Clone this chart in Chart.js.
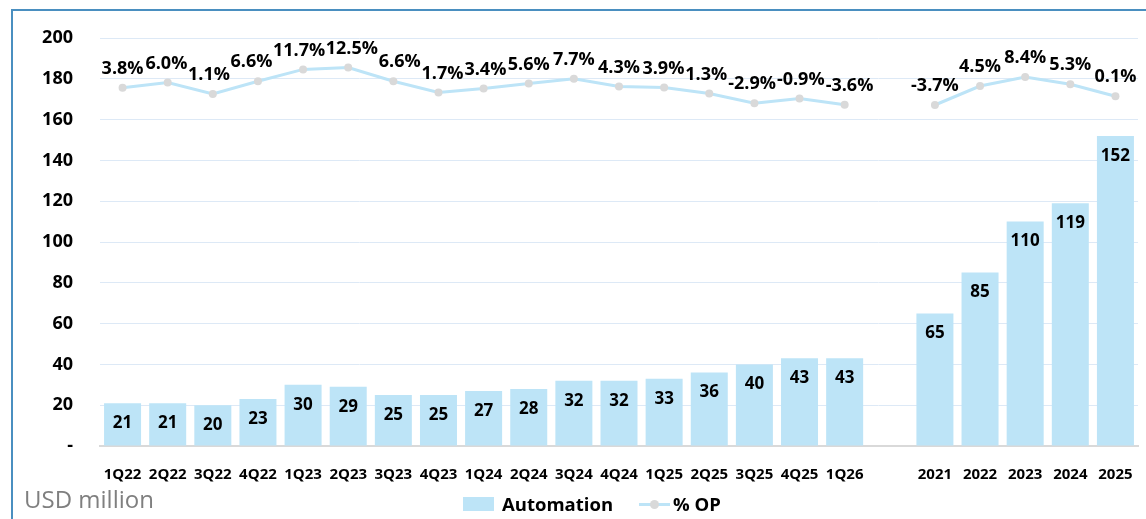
<!DOCTYPE html>
<html>
<head>
<meta charset="utf-8">
<script src="https://cdn.jsdelivr.net/npm/chart.js@4.4.0/dist/chart.umd.min.js"></script>
<style>
html, body { margin: 0; padding: 0; background: #fff; }
#wrap { position: relative; width: 1146px; height: 519px; overflow: hidden; font-family: "Open Sans", sans-serif; }
#frame { position: absolute; left: 11px; top: 9px; width: 1300px; height: 700px; border-left: 2px solid #4a8fc0; border-top: 2px solid #4a8fc0; }
canvas { position: absolute; left: 0; top: 0; }
#unit { position: absolute; left: 24px; top: 482px; font-size: 24px; color: #7f7f7f; }
#legend { position: absolute; left: 463px; top: 491px; display: flex; align-items: center; font-size: 18.5px; font-weight: bold; color: #000; }
#legend .box { width: 31px; height: 14px; background: #bde4f7; margin-right: 8px; }
#legend .ln { position: relative; width: 31px; height: 14px; margin-left: 26px; margin-right: 3px; }
#legend .ln::before { content: ""; position: absolute; left: 0; right: 0; top: 6px; height: 3px; background: #bde4f7; }
#legend .ln::after { content: ""; position: absolute; left: 11px; top: 3px; width: 9px; height: 9px; border-radius: 50%; background: #d9d9d9; }
</style>
</head>
<body>
<div id="wrap">
  <div id="frame"></div>
  <canvas id="chart" width="1146" height="519"></canvas>
  <div id="unit">USD million</div>
  <div id="legend"><span class="box"></span><span>Automation</span><span class="ln"></span><span>% OP</span></div>
</div>
<script>
// quarterly and yearly data
const quarters = ['1Q22', '2Q22', '3Q22', '4Q22', '1Q23', '2Q23', '3Q23', '4Q23', '1Q24', '2Q24', '3Q24', '4Q24', '1Q25', '2Q25', '3Q25', '4Q25', '1Q26'];
const years = ['2021', '2022', '2023', '2024', '2025'];
const quarterSales = [21, 21, 20, 23, 30, 29, 25, 25, 27, 28, 32, 32, 33, 36, 40, 43, 43];
const yearSales = [65, 85, 110, 119, 152];
const quarterOP = [3.8, 6.0, 1.1, 6.6, 11.7, 12.5, 6.6, 1.7, 3.4, 5.6, 7.7, 4.3, 3.9, 1.3, -2.9, -0.9, -3.6];
const yearOP = [-3.7, 4.5, 8.4, 5.3, 0.1];

// one empty slot between the quarters and the years
const labels = quarters.concat([''], years);
const sales = quarterSales.concat([null], yearSales);
const op = quarterOP.concat([null], yearOP);

const BAR = '#bde4f7';
const LINE = '#bde4f7';
const DOT = '#d9d9d9';
const FONT = '"Open Sans", sans-serif';

const valueLabels = {
    id: 'valueLabels',
    afterDatasetsDraw(chart) {
        const ctx = chart.ctx;
        ctx.save();
        ctx.fillStyle = '#000';
        ctx.textAlign = 'center';
        ctx.textBaseline = 'middle';

        // bar values, just inside the top of each bar
        ctx.font = 'bold 17px ' + FONT;
        chart.getDatasetMeta(1).data.forEach((bar, i) => {
            if (sales[i] == null) return;
            ctx.fillText(String(sales[i]), bar.x, bar.y + 20);
        });

        // % OP labels above the points, pushed apart sideways when they collide
        ctx.font = 'bold 18px ' + FONT;
        const boxes = [];
        chart.getDatasetMeta(0).data.forEach((pt, i) => {
            if (op[i] == null) return;
            const text = op[i].toFixed(1) + '%';
            boxes.push({ text, x: pt.x, y: pt.y - 19, w: ctx.measureText(text).width });
        });
        for (let pass = 0; pass < 10; pass++) {
            for (let k = 1; k < boxes.length; k++) {
                const a = boxes[k - 1], b = boxes[k];
                const ov = (a.x + a.w / 2 + 1) - (b.x - b.w / 2);
                if (ov > 0 && Math.abs(a.y - b.y) < 16) {
                    a.x -= ov / 2;
                    b.x += ov / 2;
                }
            }
        }
        boxes.forEach(b => ctx.fillText(b.text, b.x, b.y));
        ctx.restore();
    }
};

const ctx = document.getElementById('chart').getContext('2d');
new Chart(ctx, {
    data: {
        labels: labels,
        datasets: [
            {
                type: 'line',
                label: '% OP',
                data: op,
                yAxisID: 'y2',
                borderColor: LINE,
                borderWidth: 3,
                pointRadius: 4,
                pointBackgroundColor: DOT,
                pointBorderWidth: 0,
                spanGaps: false,
                tension: 0,
                order: 1
            },
            {
                type: 'bar',
                label: 'Automation',
                data: sales,
                yAxisID: 'y',
                backgroundColor: BAR,
                barPercentage: 0.82,
                categoryPercentage: 1,
                order: 2
            }
        ]
    },
    options: {
        responsive: false,
        animation: false,
        layout: { padding: { left: 0, right: 8, top: 38, bottom: 33 } },
        plugins: {
            legend: { display: false },
            tooltip: { enabled: false }
        },
        scales: {
            x: {
                grid: { display: false },
                border: { display: true, color: '#d9d9d9', width: 2 },
                ticks: {
                    color: '#000',
                    font: { family: FONT, size: 15, weight: 'bold' },
                    padding: 12,
                    maxRotation: 0,
                    autoSkip: false
                },
                afterFit: s => { s.height = 40; }
            },
            y: {
                min: 0,
                max: 200,
                grid: { color: '#dde9f6', lineWidth: 1, drawTicks: false },
                border: { display: false },
                ticks: {
                    stepSize: 20,
                    color: '#000',
                    font: { family: FONT, size: 18, weight: 'bold' },
                    padding: 27,
                    callback: v => (v === 0 ? '-' : v)
                },
                afterFit: s => { s.width = 100; }
            },
            y2: {
                display: false,
                min: -151.3,
                max: 25.3
            }
        }
    },
    plugins: [valueLabels]
});
</script>
</body>
</html>
